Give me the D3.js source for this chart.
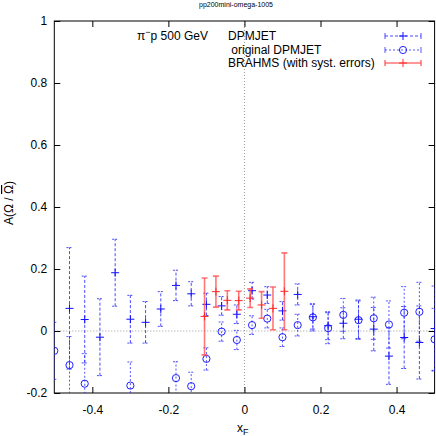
<!DOCTYPE html>
<html>
<head>
<meta charset="utf-8">
<script src="https://cdn.jsdelivr.net/npm/d3@7"></script>
<style>
  html, body { margin: 0; padding: 0; background: #fff; }
  svg { display: block; font-family: "Liberation Sans", Arial, sans-serif; }
</style>
</head>
<body>
<svg id="chart" width="436" height="436"></svg>
<script>
// ---- data ----
const dpmX   = [-0.46, -0.42, -0.38, -0.34, -0.30, -0.26, -0.22, -0.18, -0.14, -0.10, -0.06, -0.02, 0.02, 0.06, 0.10, 0.14, 0.18, 0.22, 0.26, 0.30, 0.34, 0.38, 0.42, 0.46, 0.50];
const dpmY   = [0.073, 0.037, -0.020, 0.188, 0.038, 0.028, 0.071, 0.147, 0.120, 0.086, 0.081, 0.054, 0.130, 0.116, 0.065, 0.118, 0.046, 0.017, 0.025, 0.038, 0.006, -0.081, -0.021, -0.037, 0.008];
const dpmErr = [0.196, 0.140, 0.124, 0.108, 0.077, 0.067, 0.056, 0.049, 0.039, 0.036, 0.030, 0.030, 0.027, 0.027, 0.030, 0.034, 0.040, 0.045, 0.050, 0.062, 0.070, 0.091, 0.100, 0.118, 0.137];

const origX   = [-0.50, -0.46, -0.42, -0.30, -0.18, -0.14, -0.10, -0.06, -0.02, 0.02, 0.06, 0.10, 0.14, 0.18, 0.22, 0.26, 0.30, 0.34, 0.38, 0.42, 0.46, 0.50];
const origY   = [-0.064, -0.110, -0.170, -0.176, -0.152, -0.178, -0.090, -0.002, -0.029, 0.019, 0.040, -0.020, 0.019, 0.044, 0.009, 0.052, 0.035, 0.041, 0.021, 0.059, 0.062, -0.027];
const origErr = [0.092, 0.092, 0.097, 0.076, 0.053, 0.045, 0.036, 0.031, 0.031, 0.030, 0.030, 0.030, 0.035, 0.044, 0.050, 0.053, 0.062, 0.068, 0.076, 0.084, 0.095, 0.100];

const brX   = [-0.105, -0.075, -0.045, -0.015, 0.015, 0.045, 0.075, 0.105];
const brY   = [0.047, 0.127, 0.099, 0.098, 0.106, 0.084, 0.073, 0.128];
const brErr = [0.124, 0.050, 0.031, 0.030, 0.030, 0.043, 0.069, 0.124];

const xTicks = [-0.4, -0.2, 0, 0.2, 0.4];
const yTicks = [-0.2, 0, 0.2, 0.4, 0.6, 0.8, 1];

const titleText = "pp200mini-omega-1005";
const legendNames = ["DPMJET", " original DPMJET", "BRAHMS (with syst. errors)"];

// ---- layout ----
const L = 54.3, R = 434.6, T = 21, B = 393;
const x = d3.scaleLinear().domain([-0.5, 0.5]).range([L, R]);
const y = d3.scaleLinear().domain([-0.2, 1]).range([B, T]);

const svg = d3.select("#chart");
const fmt = v => String(+v.toFixed(1));

svg.append("defs").append("clipPath").attr("id", "clip")
  .append("rect").attr("x", L).attr("y", T).attr("width", R - L).attr("height", B - T);

// zero lines
svg.append("line").attr("x1", L).attr("x2", R).attr("y1", y(0)).attr("y2", y(0))
  .attr("stroke", "#999").attr("stroke-dasharray", "1,2").attr("stroke-width", 1);
svg.append("line").attr("x1", x(0)).attr("x2", x(0)).attr("y1", T).attr("y2", B)
  .attr("stroke", "#999").attr("stroke-dasharray", "1,2").attr("stroke-width", 1);

// axes
function styleAxis(g) {
  g.select(".domain").remove();
  g.selectAll(".tick line").attr("stroke", "#000");
  g.selectAll(".tick text").attr("font-size", 12).attr("font-family", "Liberation Sans, Arial, sans-serif").attr("fill", "#000");
}
svg.append("g").attr("transform", `translate(${L},0)`)
  .call(d3.axisLeft(y).tickValues(yTicks).tickFormat(fmt).tickSizeInner(-6).tickSizeOuter(0).tickPadding(7))
  .call(styleAxis);
svg.append("g").attr("transform", `translate(${R},0)`)
  .call(d3.axisRight(y).tickValues(yTicks).tickFormat("").tickSizeInner(-6).tickSizeOuter(0))
  .call(styleAxis);
svg.append("g").attr("transform", `translate(0,${B})`)
  .call(d3.axisBottom(x).tickValues(xTicks).tickFormat(fmt).tickSizeInner(-6).tickSizeOuter(0).tickPadding(12))
  .call(styleAxis);
svg.append("g").attr("transform", `translate(0,${T})`)
  .call(d3.axisTop(x).tickValues(xTicks).tickFormat("").tickSizeInner(-6).tickSizeOuter(0))
  .call(styleAxis);

svg.append("rect").attr("x", L).attr("y", T).attr("width", R - L).attr("height", B - T)
  .attr("fill", "none").attr("stroke", "#000").attr("stroke-width", 1);

// data layer
const plot = svg.append("g").attr("clip-path", "url(#clip)");

function errSeries(xs, ys, es, opt) {
  const g = plot.append("g");
  xs.forEach((xv, i) => {
    const cx = x(xv), cy = y(ys[i]);
    const y1 = y(ys[i] - es[i]), y2 = y(ys[i] + es[i]);
    g.append("line").attr("x1", cx).attr("x2", cx).attr("y1", y1).attr("y2", y2)
      .attr("stroke", opt.color).attr("stroke-width", opt.width).attr("stroke-dasharray", opt.dash)
      .attr("stroke-opacity", opt.opacity);
    [y1, y2].forEach(yy => g.append("line").attr("x1", cx - 3).attr("x2", cx + 3).attr("y1", yy).attr("y2", yy)
      .attr("stroke", opt.color).attr("stroke-width", opt.width).attr("stroke-dasharray", opt.capDash)
      .attr("stroke-opacity", opt.opacity));
    drawMarker(g, cx, cy, opt);
  });
}
function drawMarker(g, cx, cy, opt) {
  if (opt.marker === "plus") {
    g.append("path").attr("d", `M${cx - 4},${cy}H${cx + 4}M${cx},${cy - 4}V${cy + 4}`)
      .attr("stroke", opt.mcolor).attr("stroke-width", 1).attr("fill", "none");
  } else {
    g.append("circle").attr("cx", cx).attr("cy", cy).attr("r", 3.6)
      .attr("stroke", opt.mcolor).attr("stroke-width", 1).attr("fill", "none");
  }
}

const optDpm  = {color: "#2a2aff", width: 1, dash: "3,2", capDash: "2,1", opacity: 0.85, marker: "plus", mcolor: "#1010ff"};
const optOrig = {color: "#2a2aff", width: 1, dash: "2,2", capDash: "2,1", opacity: 0.8, marker: "circle", mcolor: "#2020ff"};
const optBr   = {color: "#ff4a4a", width: 1.6, dash: null, capDash: null, opacity: 0.75, marker: "plus", mcolor: "#ff2a2a"};

errSeries(origX, origY, origErr, optOrig);
errSeries(dpmX, dpmY, dpmErr, optDpm);
errSeries(brX, brY, brErr, optBr);

// title
svg.append("text").attr("x", 236).attr("y", 7).attr("text-anchor", "middle")
  .attr("font-size", 7).attr("fill", "#000").text(titleText);

// label pi- p 500 GeV
const lab = svg.append("text").attr("x", 137).attr("y", 40).attr("font-size", 12).attr("fill", "#000");
lab.append("tspan").text("π");
lab.append("tspan").attr("dy", -5).attr("font-size", 9).text("−");
lab.append("tspan").attr("dy", 5).text("p 500 GeV");

// legend
const legOpts = [optDpm, optOrig, optBr];
const legY = [36, 50, 63];
legendNames.forEach((name, i) => {
  const ly = legY[i], o = legOpts[i];
  svg.append("text").attr("x", 228).attr("y", ly + 4).attr("font-size", 12).attr("fill", "#000")
    .attr("xml:space", "preserve").style("white-space", "pre").text(name);
  svg.append("line").attr("x1", 385).attr("x2", 421).attr("y1", ly).attr("y2", ly)
    .attr("stroke", o.color).attr("stroke-width", o.width).attr("stroke-dasharray", o.dash).attr("stroke-opacity", o.opacity);
  [385, 421].forEach(xx => svg.append("line").attr("x1", xx).attr("x2", xx).attr("y1", ly - 3).attr("y2", ly + 3)
    .attr("stroke", o.color).attr("stroke-width", o.width).attr("stroke-opacity", o.opacity));
  drawMarker(svg, 403, ly, o);
});

// axis titles
const xl = svg.append("text").attr("x", 237).attr("y", 432).attr("font-size", 12).attr("fill", "#000");
xl.append("tspan").text("x");
xl.append("tspan").attr("dy", 3).attr("font-size", 9).text("F");

const yl = svg.append("text").attr("transform", "translate(13,203) rotate(-90)")
  .attr("text-anchor", "middle").attr("font-size", 12).attr("fill", "#000");
yl.append("tspan").text("A(Ω / ");
yl.append("tspan").attr("text-decoration", "overline").text("Ω");
yl.append("tspan").text(")");
</script>
</body>
</html>
